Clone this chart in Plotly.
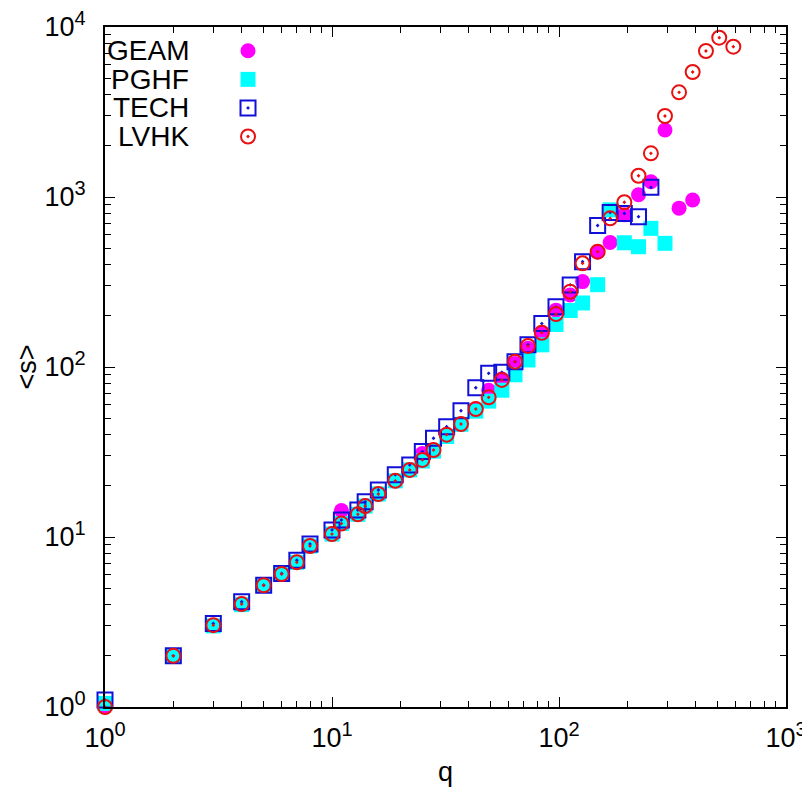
import plotly.graph_objects as go

# ---------------- data ----------------
q_lvhk = [1, 2, 3, 4, 5, 6, 7, 8, 10, 11, 13, 14, 16, 19, 22, 25, 28, 32, 37, 43,
          49, 56, 64, 73, 84, 97, 112, 127, 148, 168, 194, 224, 254, 293, 338, 388,
          444, 508, 586]
s_lvhk = [1.0, 2.0, 3.03, 4.03, 5.2, 6.06, 7.1, 8.85, 10.4, 12.0, 13.6, 15.2, 17.9,
          21.4, 24.8, 28.4, 32.5, 40, 46.2, 56.6, 66.3, 83.9, 107.5, 133, 159, 205,
          277, 407, 477, 749, 931, 1334, 1807, 2995, 4130, 5435, 7225, 8650, 7660]

q_tech = [1, 2, 3, 4, 5, 6, 7, 8, 10, 11, 13, 14, 16, 19, 22, 25, 28, 32, 37, 43,
          49, 56, 64, 73, 84, 97, 112, 127, 148, 168, 194, 224, 254]
s_tech = [1.1, 2.0, 3.1, 4.16, 5.2, 6.1, 7.3, 9.1, 11.0, 12.6, 14.4, 16.1, 18.9,
          23.2, 26.5, 31.8, 38.1, 44.5, 55.3, 75.5, 91.8, 93, 107.5, 135, 180, 226,
          304, 416, 680, 810, 800, 766, 1140]

q_geam = [1, 2, 3, 4, 5, 6, 7, 8, 10, 11, 13, 14, 16, 19, 22, 25, 28, 32, 37, 43,
          49, 56, 64, 73, 84, 97, 112, 127, 148, 168, 194, 224, 254, 293, 338, 388]
s_geam = [1.0, 2.0, 3.03, 4.03, 5.2, 6.06, 7.1, 8.85, 10.4, 14.3, 13.6, 15.2, 17.9,
          21.4, 24.8, 31, 32.5, 40, 46.2, 56.6, 73, 85, 105, 129, 158, 216, 265, 318,
          475, 540, 785, 1030, 1230, 2480, 860, 960]

q_pghf = [1, 2, 3, 4, 5, 6, 7, 8, 10, 11, 13, 14, 16, 19, 22, 25, 28, 32, 37, 43,
          49, 56, 64, 73, 84, 97, 112, 127, 148, 168, 194, 224, 254, 293]
s_pghf = [1.05, 2.0, 3.0, 4.0, 5.2, 6.06, 7.1, 8.85, 10.4, 12.0, 13.6, 15.2, 17.9,
          21.4, 24.8, 28, 32, 39, 46, 55, 63, 73, 90, 110, 135, 178, 215, 238, 305,
          840, 538, 510, 654, 534]

series_names = ["GEAM", "PGHF", "TECH", "LVHK"]
x_tick_vals = [1, 10, 100, 1000]
x_exponents = ["0", "1", "2", "3"]
y_tick_vals = [1, 10, 100, 1000, 10000]
y_exponents = ["0", "1", "2", "3", "4"]

# ---------------- styles ----------------
FONT = "Liberation Sans, Arial, Helvetica, sans-serif"
SUP = "<sup><span style='font-size:20px'>%s</span></sup>"


def power_labels(exps):
    return ["10" + SUP % e for e in exps]


styles = {
    "GEAM": dict(symbol="circle", size=15, color="#ff00ff", line=dict(width=0)),
    "PGHF": dict(symbol="square", size=15, color="#00ffff", line=dict(width=0)),
    "TECH": dict(symbol="square-open-dot", size=15, color="#1010d8", line=dict(width=2, color="#1010d8")),
    "LVHK": dict(symbol="circle-open-dot", size=14, color="#e81010", line=dict(width=2, color="#e81010")),
}
data = {
    "GEAM": (q_geam, s_geam),
    "PGHF": (q_pghf, s_pghf),
    "TECH": (q_tech, s_tech),
    "LVHK": (q_lvhk, s_lvhk),
}

fig = go.Figure()
for name in series_names:
    xs, ys = data[name]
    fig.add_trace(go.Scatter(x=xs, y=ys, mode="markers", name=name,
                             marker=styles[name], cliponaxis=False,
                             showlegend=False))

# legend keys (gnuplot style: label on the left, sample on the right)
key_x = 0.21
key_rows = [0.965, 0.923, 0.881, 0.839]
for name, ky in zip(series_names, key_rows):
    fig.add_trace(go.Scatter(x=[key_x], y=[ky], xaxis="x2", yaxis="y2", mode="markers",
                             marker=styles[name], showlegend=False, hoverinfo="skip",
                             cliponaxis=False))
    fig.add_annotation(x=0.126, y=ky, xref="paper", yref="paper", text=name,
                       showarrow=False, xanchor="right", yanchor="middle",
                       font=dict(family=FONT, size=28, color="black"))

minor_vals_x = [m * 10 ** e for e in range(3) for m in range(2, 10)]
minor_vals_y = [m * 10 ** e for e in range(4) for m in range(2, 10)]

axis_common = dict(type="log", showline=True, linecolor="black", linewidth=2,
                   mirror="ticks", ticks="inside", ticklen=10, tickwidth=1.2,
                   tickcolor="black", showgrid=False, zeroline=False, automargin=False,
                   ticklabeloverflow="allow",
                   tickfont=dict(family=FONT, size=27, color="black"))

# the page body has an 8 px margin, so the figure is made 8 px smaller
fig.update_layout(
    width=802, height=787,
    margin=dict(l=97, r=24, t=19, b=88),
    plot_bgcolor="white", paper_bgcolor="white",
    font=dict(family=FONT, size=26, color="black"),
    showlegend=False,
    xaxis=dict(range=[0, 3], tickmode="array", tickvals=x_tick_vals,
               ticktext=power_labels(x_exponents), ticklabelstandoff=6,
               minor=dict(tickmode="array", tickvals=minor_vals_x, ticks="inside", ticklen=6,
                          tickcolor="black", tickwidth=1, showgrid=False),
               title=dict(text="q", font=dict(family=FONT, size=27), standoff=10),
               **axis_common),
    yaxis=dict(range=[0, 4], tickmode="array", tickvals=y_tick_vals,
               ticktext=power_labels(y_exponents), ticklabelstandoff=12,
               minor=dict(tickmode="array", tickvals=minor_vals_y, ticks="inside", ticklen=6,
                          tickcolor="black", tickwidth=1, showgrid=False),
               title=dict(text="&lt;s&gt;", font=dict(family=FONT, size=27), standoff=0),
               **axis_common),
    xaxis2=dict(overlaying="x", range=[0, 1], visible=False, fixedrange=True),
    yaxis2=dict(overlaying="y", range=[0, 1], visible=False, fixedrange=True),
)

fig.write_html("out.html")
